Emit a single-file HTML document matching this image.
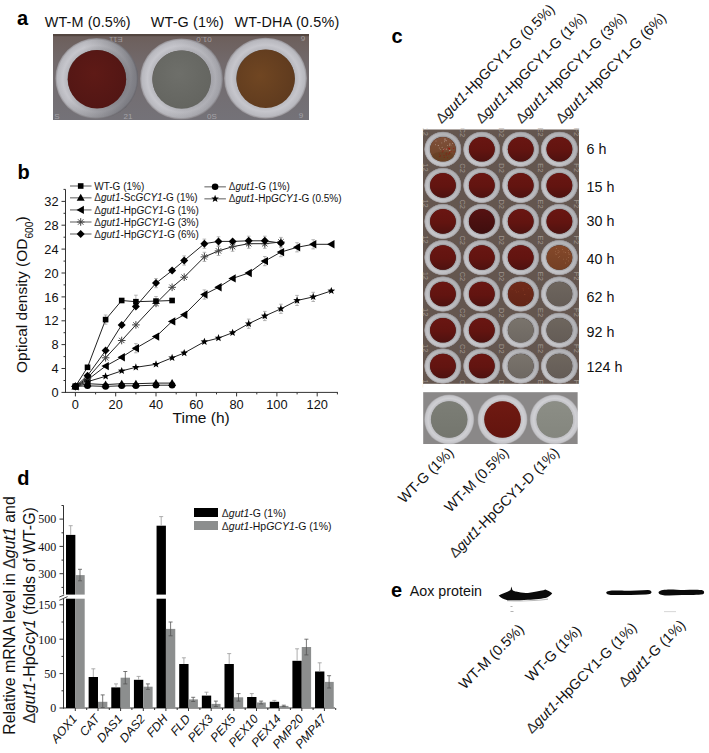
<!DOCTYPE html><html><head><meta charset="utf-8"><style>
html,body{margin:0;padding:0;background:#fff;overflow:hidden;}svg{display:block}
text{font-family:"Liberation Sans",sans-serif;fill:#111;}
.b{font-weight:bold;font-size:20px;fill:#000}
.i{font-style:italic}
</style></head><body>
<svg width="709" height="753" viewBox="0 0 709 753">
<defs>
<radialGradient id="ringA" cx="50%" cy="50%" r="50%">
 <stop offset="0.69" stop-color="#5a5450"/>
 <stop offset="0.715" stop-color="#b8b8be"/>
 <stop offset="0.82" stop-color="#c6c6cc"/>
 <stop offset="0.95" stop-color="#b8b8be"/>
 <stop offset="1" stop-color="#8e8a8e"/>
</radialGradient>
<radialGradient id="ringC" cx="50%" cy="50%" r="50%">
 <stop offset="0.67" stop-color="#4a3a38"/>
 <stop offset="0.71" stop-color="#acacb0"/>
 <stop offset="0.80" stop-color="#cacace"/>
 <stop offset="0.92" stop-color="#c0c0c4"/>
 <stop offset="0.985" stop-color="#9a9496"/>
 <stop offset="1" stop-color="#6e625e"/>
</radialGradient>
<radialGradient id="ringC2" cx="50%" cy="50%" r="50%">
 <stop offset="0.70" stop-color="#707070"/>
 <stop offset="0.735" stop-color="#bebec2"/>
 <stop offset="0.84" stop-color="#d0d0d4"/>
 <stop offset="0.95" stop-color="#c4c4c8"/>
 <stop offset="1" stop-color="#a09ea0"/>
</radialGradient>
<radialGradient id="redA" cx="45%" cy="40%" r="60%">
 <stop offset="0" stop-color="#5e1a16"/>
 <stop offset="1" stop-color="#521614"/>
</radialGradient>
<radialGradient id="grayA" cx="45%" cy="40%" r="60%">
 <stop offset="0" stop-color="#6e6f6a"/>
 <stop offset="1" stop-color="#646560"/>
</radialGradient>
<radialGradient id="brownA" cx="40%" cy="45%" r="65%">
 <stop offset="0" stop-color="#704622"/>
 <stop offset="1" stop-color="#5e3a1e"/>
</radialGradient>
<linearGradient id="red" x1="0" y1="0" x2="0" y2="1">
 <stop offset="0" stop-color="#6a1612"/>
 <stop offset="0.55" stop-color="#621410"/>
 <stop offset="1" stop-color="#4e1210"/>
</linearGradient>
<linearGradient id="redD" x1="0" y1="0" x2="0" y2="1">
 <stop offset="0" stop-color="#561212"/>
 <stop offset="1" stop-color="#3e0e0e"/>
</linearGradient>
<linearGradient id="brown" x1="0" y1="0" x2="0" y2="1">
 <stop offset="0" stop-color="#80503a"/>
 <stop offset="1" stop-color="#6e4428"/>
</linearGradient>
<linearGradient id="orange" x1="0" y1="0" x2="0" y2="1">
 <stop offset="0" stop-color="#84482a"/>
 <stop offset="1" stop-color="#744024"/>
</linearGradient>
<linearGradient id="rbrown" x1="0" y1="0" x2="0" y2="1">
 <stop offset="0" stop-color="#702a1a"/>
 <stop offset="1" stop-color="#622416"/>
</linearGradient>
<linearGradient id="gray1" x1="0" y1="0" x2="0" y2="1">
 <stop offset="0" stop-color="#7a746c"/>
 <stop offset="1" stop-color="#6e6862"/>
</linearGradient>
<linearGradient id="gray2" x1="0" y1="0" x2="0" y2="1">
 <stop offset="0" stop-color="#6e665e"/>
 <stop offset="1" stop-color="#645c56"/>
</linearGradient>
<linearGradient id="grayC1" x1="0" y1="0" x2="0" y2="1">
 <stop offset="0" stop-color="#7c7e76"/>
 <stop offset="1" stop-color="#74766e"/>
</linearGradient>
<linearGradient id="grayC3" x1="0" y1="0" x2="0" y2="1">
 <stop offset="0" stop-color="#8c8e86"/>
 <stop offset="1" stop-color="#84867e"/>
</linearGradient>
<linearGradient id="redC2" x1="0" y1="0" x2="0" y2="1">
 <stop offset="0" stop-color="#701a12"/>
 <stop offset="1" stop-color="#62140e"/>
</linearGradient>
<linearGradient id="shadeR" x1="0" y1="0" x2="1" y2="0.3">
 <stop offset="0.35" stop-color="#000" stop-opacity="0"/>
 <stop offset="1" stop-color="#1a1a22" stop-opacity="0.38"/>
</linearGradient>
<linearGradient id="shadeL" x1="0" y1="0" x2="1" y2="0.2">
 <stop offset="0.4" stop-color="#000" stop-opacity="0"/>
 <stop offset="1" stop-color="#1a1a22" stop-opacity="0.15"/>
</linearGradient>
<linearGradient id="shadeC" x1="1" y1="0" x2="0" y2="1">
 <stop offset="0.3" stop-color="#000" stop-opacity="0.10"/>
 <stop offset="1" stop-color="#fff" stop-opacity="0.10"/>
</linearGradient>
<linearGradient id="plateA" x1="0" y1="0" x2="0" y2="1">
 <stop offset="0" stop-color="#6c5e5a"/>
 <stop offset="0.35" stop-color="#726a6c"/>
 <stop offset="1" stop-color="#747278"/>
</linearGradient>
</defs>
<text class="b" x="17" y="25">a</text>
<text class="b" x="17.5" y="179.3">b</text>
<text class="b" x="391.5" y="43.2">c</text>
<text class="b" x="17.3" y="484.6">d</text>
<text class="b" x="391" y="596.8">e</text>
<text x="44.8" y="27.1" font-size="14.4" textLength="85.8" lengthAdjust="spacing">WT-M (0.5%)</text>
<text x="150.8" y="27.1" font-size="14.4" textLength="73" lengthAdjust="spacing">WT-G (1%)</text>
<text x="234.6" y="27.1" font-size="14.4" textLength="104.6" lengthAdjust="spacing">WT-DHA (0.5%)</text>
<rect x="53" y="34" width="256" height="86" fill="url(#plateA)"/>
<rect x="53" y="34" width="256" height="2.2" fill="#4e403a" opacity="0.8"/>
<text transform="translate(116,36.5) rotate(180)" font-size="8" style="fill:#c4c4c8" opacity="0.6" text-anchor="middle">E11</text>
<text transform="translate(204,36.5) rotate(180)" font-size="8" style="fill:#c4c4c8" opacity="0.6" text-anchor="middle">01.0</text>
<text transform="translate(303,36) rotate(180)" font-size="8" style="fill:#c4c4c8" opacity="0.6" text-anchor="middle">6</text>
<text transform="translate(57,119) rotate(0)" font-size="8" style="fill:#c4c4c8" opacity="0.6" text-anchor="middle">S</text>
<text transform="translate(128,119) rotate(0)" font-size="8" style="fill:#c4c4c8" opacity="0.6" text-anchor="middle">21</text>
<text transform="translate(212,119) rotate(0)" font-size="8" style="fill:#c4c4c8" opacity="0.6" text-anchor="middle">0S</text>
<text transform="translate(301,118) rotate(0)" font-size="8" style="fill:#c4c4c8" opacity="0.6" text-anchor="middle">9</text>
<ellipse cx="96.8" cy="78.6" rx="41.5" ry="40.5" fill="url(#ringA)"/>
<ellipse cx="96.8" cy="78.6" rx="41.5" ry="40.5" fill="url(#shadeR)"/>
<circle cx="97.0" cy="79.19999999999999" r="29.2" fill="url(#redA)"/>
<ellipse cx="181.5" cy="79" rx="41.5" ry="40.5" fill="url(#ringA)"/>
<ellipse cx="181.5" cy="79" rx="41.5" ry="40.5" fill="url(#shadeL)"/>
<circle cx="181.7" cy="79.6" r="29.2" fill="url(#grayA)"/>
<ellipse cx="265.5" cy="78.2" rx="41.5" ry="40.5" fill="url(#ringA)"/>
<circle cx="265.7" cy="78.8" r="29.2" fill="url(#brownA)"/>
<g stroke="#333" stroke-width="1" fill="none">
<line x1="65.5" y1="189.4" x2="65.5" y2="392.9"/>
<line x1="65" y1="392.4" x2="337.9" y2="392.4"/>
<line x1="61.5" y1="392.4" x2="65.5" y2="392.4"/>
<line x1="63.5" y1="380.5" x2="65.5" y2="380.5"/>
<line x1="61.5" y1="368.5" x2="65.5" y2="368.5"/>
<line x1="63.5" y1="356.6" x2="65.5" y2="356.6"/>
<line x1="61.5" y1="344.6" x2="65.5" y2="344.6"/>
<line x1="63.5" y1="332.7" x2="65.5" y2="332.7"/>
<line x1="61.5" y1="320.8" x2="65.5" y2="320.8"/>
<line x1="63.5" y1="308.8" x2="65.5" y2="308.8"/>
<line x1="61.5" y1="296.9" x2="65.5" y2="296.9"/>
<line x1="63.5" y1="284.9" x2="65.5" y2="284.9"/>
<line x1="61.5" y1="273.0" x2="65.5" y2="273.0"/>
<line x1="63.5" y1="261.1" x2="65.5" y2="261.1"/>
<line x1="61.5" y1="249.1" x2="65.5" y2="249.1"/>
<line x1="63.5" y1="237.2" x2="65.5" y2="237.2"/>
<line x1="61.5" y1="225.2" x2="65.5" y2="225.2"/>
<line x1="63.5" y1="213.3" x2="65.5" y2="213.3"/>
<line x1="61.5" y1="201.4" x2="65.5" y2="201.4"/>
<line x1="63.5" y1="189.4" x2="65.5" y2="189.4"/>
<line x1="75.4" y1="392.4" x2="75.4" y2="396.4"/>
<line x1="95.6" y1="392.4" x2="95.6" y2="394.4"/>
<line x1="115.7" y1="392.4" x2="115.7" y2="396.4"/>
<line x1="135.9" y1="392.4" x2="135.9" y2="394.4"/>
<line x1="156.0" y1="392.4" x2="156.0" y2="396.4"/>
<line x1="176.2" y1="392.4" x2="176.2" y2="394.4"/>
<line x1="196.3" y1="392.4" x2="196.3" y2="396.4"/>
<line x1="216.5" y1="392.4" x2="216.5" y2="394.4"/>
<line x1="236.6" y1="392.4" x2="236.6" y2="396.4"/>
<line x1="256.8" y1="392.4" x2="256.8" y2="394.4"/>
<line x1="276.9" y1="392.4" x2="276.9" y2="396.4"/>
<line x1="297.1" y1="392.4" x2="297.1" y2="394.4"/>
<line x1="317.2" y1="392.4" x2="317.2" y2="396.4"/>
<line x1="337.4" y1="392.4" x2="337.4" y2="394.4"/>
</g>
<text x="58.6" y="397.0" font-size="12.8" text-anchor="end">0</text>
<text x="58.6" y="373.1" font-size="12.8" text-anchor="end">4</text>
<text x="58.6" y="349.2" font-size="12.8" text-anchor="end">8</text>
<text x="58.6" y="325.4" font-size="12.8" text-anchor="end">12</text>
<text x="58.6" y="301.5" font-size="12.8" text-anchor="end">16</text>
<text x="58.6" y="277.6" font-size="12.8" text-anchor="end">20</text>
<text x="58.6" y="253.7" font-size="12.8" text-anchor="end">24</text>
<text x="58.6" y="229.8" font-size="12.8" text-anchor="end">28</text>
<text x="58.6" y="206.0" font-size="12.8" text-anchor="end">32</text>
<text x="75.4" y="408.6" font-size="12.8" text-anchor="middle">0</text>
<text x="115.7" y="408.6" font-size="12.8" text-anchor="middle">20</text>
<text x="156.0" y="408.6" font-size="12.8" text-anchor="middle">40</text>
<text x="196.3" y="408.6" font-size="12.8" text-anchor="middle">60</text>
<text x="236.6" y="408.6" font-size="12.8" text-anchor="middle">80</text>
<text x="276.9" y="408.6" font-size="12.8" text-anchor="middle">100</text>
<text x="317.2" y="408.6" font-size="12.8" text-anchor="middle">120</text>
<text x="172.6" y="423.4" font-size="15.5">Time (h)</text>
<text transform="translate(27.3,373) rotate(-90)" font-size="15.5">Optical density (OD<tspan font-size="10.2" dy="6">600</tspan><tspan dy="-6">)</tspan></text>
<polyline points="75.4,386.4 87.5,381.7 105.6,376.3 121.7,370.9 135.9,367.3 156.0,364.3 172.1,357.8 184.2,353.0 204.4,341.7 218.5,338.1 232.6,332.7 248.7,323.7 264.8,316.0 280.9,308.8 297.1,300.5 313.2,296.9 331.3,290.9" fill="none" stroke="#222" stroke-width="1"/>
<polyline points="75.4,386.4 87.5,379.9 105.6,366.1 121.7,357.2 135.9,348.2 156.0,336.6 172.1,321.4 184.2,314.8 204.4,294.5 218.5,287.3 232.6,278.4 248.7,273.0 264.8,261.1 280.9,252.1 297.1,247.3 313.2,244.3 331.3,244.3" fill="none" stroke="#222" stroke-width="1"/>
<polyline points="75.4,386.4 87.5,378.1 105.6,357.8 121.7,340.5 135.9,324.9 156.0,303.4 172.1,287.3 184.2,277.2 204.4,256.9 218.5,250.9 232.6,246.7 248.7,243.7 264.8,243.7 280.9,242.0" fill="none" stroke="#222" stroke-width="1"/>
<polyline points="75.4,386.4 87.5,375.7 105.6,350.6 121.7,324.9 135.9,306.4 156.0,283.1 172.1,270.6 184.2,260.5 204.4,243.7 218.5,241.4 232.6,241.4 248.7,240.8 264.8,240.8 280.9,243.1" fill="none" stroke="#222" stroke-width="1"/>
<polyline points="75.4,386.4 87.5,367.3 105.6,319.6 121.7,300.5 135.9,301.7 156.0,301.1 172.1,300.5" fill="none" stroke="#222" stroke-width="1"/>
<polyline points="75.4,386.4 87.5,383.7 105.6,384.6 121.7,383.7 135.9,383.7 156.0,383.1 172.1,383.1" fill="none" stroke="#222" stroke-width="1"/>
<polyline points="75.4,386.4 87.5,385.8 105.6,386.4 121.7,385.8 135.9,385.8 156.0,385.2 172.1,385.2" fill="none" stroke="#222" stroke-width="1"/>
<path d="M105.6,315.0V324.2M103.8,315.0h3.6M103.8,324.2h3.6" stroke="#999" stroke-width="0.7" fill="none"/>
<path d="M135.9,295.2V308.1M134.1,295.2h3.6M134.1,308.1h3.6" stroke="#999" stroke-width="0.7" fill="none"/>
<path d="M156.0,296.5V305.7M154.2,296.5h3.6M154.2,305.7h3.6" stroke="#999" stroke-width="0.7" fill="none"/>
<path d="M156.0,278.5V287.7M154.2,278.5h3.6M154.2,287.7h3.6" stroke="#999" stroke-width="0.7" fill="none"/>
<path d="M184.2,255.9V265.1M182.4,255.9h3.6M182.4,265.1h3.6" stroke="#999" stroke-width="0.7" fill="none"/>
<path d="M204.4,239.1V248.3M202.6,239.1h3.6M202.6,248.3h3.6" stroke="#999" stroke-width="0.7" fill="none"/>
<path d="M218.5,236.8V246.0M216.7,236.8h3.6M216.7,246.0h3.6" stroke="#999" stroke-width="0.7" fill="none"/>
<path d="M248.7,236.2V245.4M246.9,236.2h3.6M246.9,245.4h3.6" stroke="#999" stroke-width="0.7" fill="none"/>
<path d="M264.8,236.2V245.4M263.0,236.2h3.6M263.0,245.4h3.6" stroke="#999" stroke-width="0.7" fill="none"/>
<path d="M204.4,252.3V261.5M202.6,252.3h3.6M202.6,261.5h3.6" stroke="#999" stroke-width="0.7" fill="none"/>
<path d="M218.5,246.3V255.5M216.7,246.3h3.6M216.7,255.5h3.6" stroke="#999" stroke-width="0.7" fill="none"/>
<path d="M232.6,242.1V251.3M230.8,242.1h3.6M230.8,251.3h3.6" stroke="#999" stroke-width="0.7" fill="none"/>
<path d="M248.7,239.1V248.3M246.9,239.1h3.6M246.9,248.3h3.6" stroke="#999" stroke-width="0.7" fill="none"/>
<path d="M264.8,239.1V248.3M263.0,239.1h3.6M263.0,248.3h3.6" stroke="#999" stroke-width="0.7" fill="none"/>
<path d="M280.9,237.4V246.6M279.1,237.4h3.6M279.1,246.6h3.6" stroke="#999" stroke-width="0.7" fill="none"/>
<path d="M135.9,343.6V352.8M134.1,343.6h3.6M134.1,352.8h3.6" stroke="#999" stroke-width="0.7" fill="none"/>
<path d="M204.4,289.9V299.1M202.6,289.9h3.6M202.6,299.1h3.6" stroke="#999" stroke-width="0.7" fill="none"/>
<path d="M264.8,256.5V265.7M263.0,256.5h3.6M263.0,265.7h3.6" stroke="#999" stroke-width="0.7" fill="none"/>
<path d="M280.9,247.5V256.7M279.1,247.5h3.6M279.1,256.7h3.6" stroke="#999" stroke-width="0.7" fill="none"/>
<path d="M297.1,242.7V251.9M295.2,242.7h3.6M295.2,251.9h3.6" stroke="#999" stroke-width="0.7" fill="none"/>
<path d="M313.2,239.7V248.9M311.4,239.7h3.6M311.4,248.9h3.6" stroke="#999" stroke-width="0.7" fill="none"/>
<path d="M248.7,319.1V328.3M246.9,319.1h3.6M246.9,328.3h3.6" stroke="#999" stroke-width="0.7" fill="none"/>
<path d="M264.8,311.4V320.6M263.0,311.4h3.6M263.0,320.6h3.6" stroke="#999" stroke-width="0.7" fill="none"/>
<path d="M280.9,304.2V313.4M279.1,304.2h3.6M279.1,313.4h3.6" stroke="#999" stroke-width="0.7" fill="none"/>
<path d="M297.1,295.4V305.5M295.2,295.4h3.6M295.2,305.5h3.6" stroke="#999" stroke-width="0.7" fill="none"/>
<path d="M313.2,292.3V301.5M311.4,292.3h3.6M311.4,301.5h3.6" stroke="#999" stroke-width="0.7" fill="none"/>
<polygon points="75.4,382.4 76.4,385.1 79.2,385.2 77.0,387.0 77.8,389.7 75.4,388.1 73.0,389.7 73.8,387.0 71.6,385.2 74.4,385.1" fill="#000"/>
<polygon points="87.5,377.7 88.5,380.3 91.3,380.4 89.1,382.2 89.8,384.9 87.5,383.4 85.1,384.9 85.9,382.2 83.7,380.4 86.5,380.3" fill="#000"/>
<polygon points="105.6,372.3 106.6,374.9 109.4,375.0 107.2,376.8 108.0,379.5 105.6,378.0 103.3,379.5 104.0,376.8 101.8,375.0 104.6,374.9" fill="#000"/>
<polygon points="121.7,366.9 122.7,369.5 125.5,369.7 123.4,371.4 124.1,374.1 121.7,372.6 119.4,374.1 120.1,371.4 117.9,369.7 120.7,369.5" fill="#000"/>
<polygon points="135.9,363.3 136.8,366.0 139.7,366.1 137.5,367.9 138.2,370.6 135.9,369.0 133.5,370.6 134.2,367.9 132.0,366.1 134.9,366.0" fill="#000"/>
<polygon points="156.0,360.3 157.0,363.0 159.8,363.1 157.6,364.9 158.4,367.6 156.0,366.0 153.6,367.6 154.4,364.9 152.2,363.1 155.0,363.0" fill="#000"/>
<polygon points="172.1,353.8 173.1,356.4 175.9,356.5 173.7,358.3 174.5,361.0 172.1,359.5 169.8,361.0 170.5,358.3 168.3,356.5 171.1,356.4" fill="#000"/>
<polygon points="184.2,349.0 185.2,351.6 188.0,351.8 185.8,353.5 186.6,356.2 184.2,354.7 181.9,356.2 182.6,353.5 180.4,351.8 183.2,351.6" fill="#000"/>
<polygon points="204.4,337.7 205.4,340.3 208.2,340.4 206.0,342.2 206.7,344.9 204.4,343.4 202.0,344.9 202.7,342.2 200.6,340.4 203.4,340.3" fill="#000"/>
<polygon points="218.5,334.1 219.5,336.7 222.3,336.8 220.1,338.6 220.8,341.3 218.5,339.8 216.1,341.3 216.8,338.6 214.7,336.8 217.5,336.7" fill="#000"/>
<polygon points="232.6,328.7 233.6,331.3 236.4,331.5 234.2,333.2 234.9,335.9 232.6,334.4 230.2,335.9 231.0,333.2 228.8,331.5 231.6,331.3" fill="#000"/>
<polygon points="248.7,319.7 249.7,322.4 252.5,322.5 250.3,324.3 251.0,327.0 248.7,325.4 246.3,327.0 247.1,324.3 244.9,322.5 247.7,322.4" fill="#000"/>
<polygon points="264.8,312.0 265.8,314.6 268.6,314.7 266.4,316.5 267.2,319.2 264.8,317.7 262.5,319.2 263.2,316.5 261.0,314.7 263.8,314.6" fill="#000"/>
<polygon points="280.9,304.8 281.9,307.4 284.7,307.6 282.5,309.3 283.3,312.1 280.9,310.5 278.6,312.1 279.3,309.3 277.1,307.6 279.9,307.4" fill="#000"/>
<polygon points="297.1,296.5 298.0,299.1 300.9,299.2 298.7,301.0 299.4,303.7 297.1,302.2 294.7,303.7 295.4,301.0 293.2,299.2 296.1,299.1" fill="#000"/>
<polygon points="313.2,292.9 314.2,295.5 317.0,295.6 314.8,297.4 315.5,300.1 313.2,298.6 310.8,300.1 311.6,297.4 309.4,295.6 312.2,295.5" fill="#000"/>
<polygon points="331.3,286.9 332.3,289.5 335.1,289.7 332.9,291.4 333.7,294.1 331.3,292.6 329.0,294.1 329.7,291.4 327.5,289.7 330.3,289.5" fill="#000"/>
<path d="M71.2,386.4 L78.6,382.2 L78.6,390.6Z" fill="#000"/>
<path d="M83.3,379.9 L90.6,375.7 L90.6,384.1Z" fill="#000"/>
<path d="M101.4,366.1 L108.8,361.9 L108.8,370.3Z" fill="#000"/>
<path d="M117.5,357.2 L124.9,353.0 L124.9,361.4Z" fill="#000"/>
<path d="M131.7,348.2 L139.0,344.0 L139.0,352.4Z" fill="#000"/>
<path d="M151.8,336.6 L159.2,332.4 L159.2,340.8Z" fill="#000"/>
<path d="M167.9,321.4 L175.3,317.2 L175.3,325.6Z" fill="#000"/>
<path d="M180.0,314.8 L187.4,310.6 L187.4,319.0Z" fill="#000"/>
<path d="M200.2,294.5 L207.5,290.3 L207.5,298.7Z" fill="#000"/>
<path d="M214.3,287.3 L221.6,283.1 L221.6,291.5Z" fill="#000"/>
<path d="M228.4,278.4 L235.7,274.2 L235.7,282.6Z" fill="#000"/>
<path d="M244.5,273.0 L251.8,268.8 L251.8,277.2Z" fill="#000"/>
<path d="M260.6,261.1 L268.0,256.9 L268.0,265.3Z" fill="#000"/>
<path d="M276.7,252.1 L284.1,247.9 L284.1,256.3Z" fill="#000"/>
<path d="M292.9,247.3 L300.2,243.1 L300.2,251.5Z" fill="#000"/>
<path d="M309.0,244.3 L316.3,240.1 L316.3,248.5Z" fill="#000"/>
<path d="M327.1,244.3 L334.5,240.1 L334.5,248.5Z" fill="#000"/>
<path d="M71.6,386.4L79.2,386.4M72.7,383.7L78.1,389.1M75.4,382.6L75.4,390.2M78.1,383.7L72.7,389.1" stroke="#444" stroke-width="1.0" fill="none"/>
<path d="M83.7,378.1L91.3,378.1M84.8,375.4L90.2,380.8M87.5,374.3L87.5,381.9M90.2,375.4L84.8,380.8" stroke="#444" stroke-width="1.0" fill="none"/>
<path d="M101.8,357.8L109.4,357.8M102.9,355.1L108.3,360.5M105.6,354.0L105.6,361.6M108.3,355.1L102.9,360.5" stroke="#444" stroke-width="1.0" fill="none"/>
<path d="M117.9,340.5L125.5,340.5M119.1,337.8L124.4,343.1M121.7,336.7L121.7,344.3M124.4,337.8L119.1,343.1" stroke="#444" stroke-width="1.0" fill="none"/>
<path d="M132.1,324.9L139.7,324.9M133.2,322.3L138.5,327.6M135.9,321.1L135.9,328.7M138.5,322.3L133.2,327.6" stroke="#444" stroke-width="1.0" fill="none"/>
<path d="M152.2,303.4L159.8,303.4M153.3,300.8L158.7,306.1M156.0,299.6L156.0,307.2M158.7,300.8L153.3,306.1" stroke="#444" stroke-width="1.0" fill="none"/>
<path d="M168.3,287.3L175.9,287.3M169.4,284.6L174.8,290.0M172.1,283.5L172.1,291.1M174.8,284.6L169.4,290.0" stroke="#444" stroke-width="1.0" fill="none"/>
<path d="M180.4,277.2L188.0,277.2M181.5,274.5L186.9,279.9M184.2,273.4L184.2,281.0M186.9,274.5L181.5,279.9" stroke="#444" stroke-width="1.0" fill="none"/>
<path d="M200.6,256.9L208.2,256.9M201.7,254.2L207.0,259.6M204.4,253.1L204.4,260.7M207.0,254.2L201.7,259.6" stroke="#444" stroke-width="1.0" fill="none"/>
<path d="M214.7,250.9L222.3,250.9M215.8,248.2L221.2,253.6M218.5,247.1L218.5,254.7M221.2,248.2L215.8,253.6" stroke="#444" stroke-width="1.0" fill="none"/>
<path d="M228.8,246.7L236.4,246.7M229.9,244.0L235.3,249.4M232.6,242.9L232.6,250.5M235.3,244.0L229.9,249.4" stroke="#444" stroke-width="1.0" fill="none"/>
<path d="M244.9,243.7L252.5,243.7M246.0,241.1L251.4,246.4M248.7,239.9L248.7,247.5M251.4,241.1L246.0,246.4" stroke="#444" stroke-width="1.0" fill="none"/>
<path d="M261.0,243.7L268.6,243.7M262.1,241.1L267.5,246.4M264.8,239.9L264.8,247.5M267.5,241.1L262.1,246.4" stroke="#444" stroke-width="1.0" fill="none"/>
<path d="M277.1,242.0L284.7,242.0M278.2,239.3L283.6,244.6M280.9,238.2L280.9,245.8M283.6,239.3L278.2,244.6" stroke="#444" stroke-width="1.0" fill="none"/>
<path d="M75.4,382.4 L79.4,386.4 L75.4,390.4 L71.4,386.4Z" fill="#000"/>
<path d="M87.5,371.7 L91.5,375.7 L87.5,379.7 L83.5,375.7Z" fill="#000"/>
<path d="M105.6,346.6 L109.6,350.6 L105.6,354.6 L101.6,350.6Z" fill="#000"/>
<path d="M121.7,320.9 L125.7,324.9 L121.7,328.9 L117.7,324.9Z" fill="#000"/>
<path d="M135.9,302.4 L139.9,306.4 L135.9,310.4 L131.9,306.4Z" fill="#000"/>
<path d="M156.0,279.1 L160.0,283.1 L156.0,287.1 L152.0,283.1Z" fill="#000"/>
<path d="M172.1,266.6 L176.1,270.6 L172.1,274.6 L168.1,270.6Z" fill="#000"/>
<path d="M184.2,256.5 L188.2,260.5 L184.2,264.5 L180.2,260.5Z" fill="#000"/>
<path d="M204.4,239.7 L208.4,243.7 L204.4,247.7 L200.4,243.7Z" fill="#000"/>
<path d="M218.5,237.4 L222.5,241.4 L218.5,245.4 L214.5,241.4Z" fill="#000"/>
<path d="M232.6,237.4 L236.6,241.4 L232.6,245.4 L228.6,241.4Z" fill="#000"/>
<path d="M248.7,236.8 L252.7,240.8 L248.7,244.8 L244.7,240.8Z" fill="#000"/>
<path d="M264.8,236.8 L268.8,240.8 L264.8,244.8 L260.8,240.8Z" fill="#000"/>
<path d="M280.9,239.1 L284.9,243.1 L280.9,247.1 L276.9,243.1Z" fill="#000"/>
<rect x="72.6" y="383.6" width="5.6" height="5.6" fill="#000"/>
<rect x="84.7" y="364.5" width="5.6" height="5.6" fill="#000"/>
<rect x="102.8" y="316.8" width="5.6" height="5.6" fill="#000"/>
<rect x="118.9" y="297.7" width="5.6" height="5.6" fill="#000"/>
<rect x="133.1" y="298.9" width="5.6" height="5.6" fill="#000"/>
<rect x="153.2" y="298.3" width="5.6" height="5.6" fill="#000"/>
<rect x="169.3" y="297.7" width="5.6" height="5.6" fill="#000"/>
<circle cx="75.4" cy="386.4" r="3.3" fill="#000"/>
<circle cx="87.5" cy="385.8" r="3.3" fill="#000"/>
<circle cx="105.6" cy="386.4" r="3.3" fill="#000"/>
<circle cx="121.7" cy="385.8" r="3.3" fill="#000"/>
<circle cx="135.9" cy="385.8" r="3.3" fill="#000"/>
<circle cx="156.0" cy="385.2" r="3.3" fill="#000"/>
<circle cx="172.1" cy="385.2" r="3.3" fill="#000"/>
<path d="M75.4,382.4 L79.4,389.4 L71.4,389.4Z" fill="#000"/>
<path d="M87.5,379.7 L91.5,386.7 L83.5,386.7Z" fill="#000"/>
<path d="M105.6,380.6 L109.6,387.6 L101.6,387.6Z" fill="#000"/>
<path d="M121.7,379.7 L125.7,386.7 L117.7,386.7Z" fill="#000"/>
<path d="M135.9,379.7 L139.9,386.7 L131.9,386.7Z" fill="#000"/>
<path d="M156.0,379.1 L160.0,386.1 L152.0,386.1Z" fill="#000"/>
<path d="M172.1,379.1 L176.1,386.1 L168.1,386.1Z" fill="#000"/>
<line x1="70" y1="186" x2="91.5" y2="186" stroke="#8a8a8a" stroke-width="1.4"/>
<rect x="77.9" y="183.2" width="5.6" height="5.6" fill="#000"/>
<text x="94.3" y="189.6" font-size="10">WT-G (1%)</text>
<line x1="70" y1="197.8" x2="91.5" y2="197.8" stroke="#8a8a8a" stroke-width="1.4"/>
<path d="M80.7,193.8 L84.7,200.8 L76.7,200.8Z" fill="#000"/>
<text x="94.3" y="201.4" font-size="10"><tspan style="fill:#333">Δ</tspan><tspan font-style="italic">gut1</tspan>-Sc<tspan font-style="italic">GCY1</tspan>-G (1%)</text>
<line x1="70" y1="209.9" x2="91.5" y2="209.9" stroke="#8a8a8a" stroke-width="1.4"/>
<path d="M76.5,209.9 L83.9,205.7 L83.9,214.1Z" fill="#000"/>
<text x="94.3" y="213.5" font-size="10"><tspan style="fill:#333">Δ</tspan><tspan font-style="italic">gut1</tspan>-Hp<tspan font-style="italic">GCY1</tspan>-G (1%)</text>
<line x1="70" y1="222" x2="91.5" y2="222" stroke="#8a8a8a" stroke-width="1.4"/>
<path d="M76.9,222.0L84.5,222.0M78.0,219.3L83.4,224.7M80.7,218.2L80.7,225.8M83.4,219.3L78.0,224.7" stroke="#444" stroke-width="1.0" fill="none"/>
<text x="94.3" y="225.6" font-size="10"><tspan style="fill:#333">Δ</tspan><tspan font-style="italic">gut1</tspan>-Hp<tspan font-style="italic">GCY1</tspan>-G (3%)</text>
<line x1="70" y1="234" x2="91.5" y2="234" stroke="#8a8a8a" stroke-width="1.4"/>
<path d="M80.7,230.0 L84.7,234.0 L80.7,238.0 L76.7,234.0Z" fill="#000"/>
<text x="94.3" y="237.6" font-size="10"><tspan style="fill:#333">Δ</tspan><tspan font-style="italic">gut1</tspan>-Hp<tspan font-style="italic">GCY1</tspan>-G (6%)</text>
<line x1="204.4" y1="186.8" x2="225.9" y2="186.8" stroke="#8a8a8a" stroke-width="1.4"/>
<circle cx="215.1" cy="186.8" r="3.3" fill="#000"/>
<text x="228.70000000000002" y="190.4" font-size="10"><tspan style="fill:#333">Δ</tspan><tspan font-style="italic">gut1</tspan>-G (1%)</text>
<line x1="204.4" y1="198.8" x2="225.9" y2="198.8" stroke="#8a8a8a" stroke-width="1.4"/>
<polygon points="215.1,194.8 216.1,197.4 218.9,197.6 216.7,199.3 217.5,202.0 215.1,200.5 212.7,202.0 213.5,199.3 211.3,197.6 214.1,197.4" fill="#000"/>
<text x="228.70000000000002" y="202.4" font-size="10"><tspan style="fill:#333">Δ</tspan><tspan font-style="italic">gut1</tspan>-Hp<tspan font-style="italic">GCY1</tspan>-G (0.5%)</text>
<text transform="translate(441.5,124.3) rotate(-45)" font-size="14.3" text-anchor="start"><tspan style="fill:#333">Δ</tspan><tspan font-style="italic">gut1</tspan>-HpGCY1-G (0.5%)</text>
<text transform="translate(481.5,124.3) rotate(-45)" font-size="14.3" text-anchor="start"><tspan style="fill:#333">Δ</tspan><tspan font-style="italic">gut1</tspan>-HpGCY1-G (1%)</text>
<text transform="translate(521.5,124.3) rotate(-45)" font-size="14.3" text-anchor="start"><tspan style="fill:#333">Δ</tspan><tspan font-style="italic">gut1</tspan>-HpGCY1-G (3%)</text>
<text transform="translate(561.5,124.3) rotate(-45)" font-size="14.3" text-anchor="start"><tspan style="fill:#333">Δ</tspan><tspan font-style="italic">gut1</tspan>-HpGCY1-G (6%)</text>
<rect x="423" y="129.5" width="156" height="254.3" fill="#64564f"/>
<text transform="translate(422.7,127.5) rotate(90)" font-size="7.5" style="fill:#b8b0aa" opacity="0.7">12</text>
<text transform="translate(459.8,127.5) rotate(90)" font-size="7.5" style="fill:#b8b0aa" opacity="0.7">C2</text>
<text transform="translate(498.7,127.5) rotate(90)" font-size="7.5" style="fill:#b8b0aa" opacity="0.7">D2</text>
<text transform="translate(537.5,127.5) rotate(90)" font-size="7.5" style="fill:#b8b0aa" opacity="0.7">E2</text>
<text transform="translate(574.0,127.5) rotate(90)" font-size="7.5" style="fill:#b8b0aa" opacity="0.7">F2</text>
<text transform="translate(422.7,163.3) rotate(90)" font-size="7.5" style="fill:#b8b0aa" opacity="0.7">12</text>
<text transform="translate(459.8,163.3) rotate(90)" font-size="7.5" style="fill:#b8b0aa" opacity="0.7">C2</text>
<text transform="translate(498.7,163.3) rotate(90)" font-size="7.5" style="fill:#b8b0aa" opacity="0.7">D2</text>
<text transform="translate(537.5,163.3) rotate(90)" font-size="7.5" style="fill:#b8b0aa" opacity="0.7">E2</text>
<text transform="translate(574.0,163.3) rotate(90)" font-size="7.5" style="fill:#b8b0aa" opacity="0.7">F2</text>
<text transform="translate(422.7,199.4) rotate(90)" font-size="7.5" style="fill:#b8b0aa" opacity="0.7">12</text>
<text transform="translate(459.8,199.4) rotate(90)" font-size="7.5" style="fill:#b8b0aa" opacity="0.7">C2</text>
<text transform="translate(498.7,199.4) rotate(90)" font-size="7.5" style="fill:#b8b0aa" opacity="0.7">D2</text>
<text transform="translate(537.5,199.4) rotate(90)" font-size="7.5" style="fill:#b8b0aa" opacity="0.7">E2</text>
<text transform="translate(574.0,199.4) rotate(90)" font-size="7.5" style="fill:#b8b0aa" opacity="0.7">F2</text>
<text transform="translate(422.7,235.4) rotate(90)" font-size="7.5" style="fill:#b8b0aa" opacity="0.7">12</text>
<text transform="translate(459.8,235.4) rotate(90)" font-size="7.5" style="fill:#b8b0aa" opacity="0.7">C2</text>
<text transform="translate(498.7,235.4) rotate(90)" font-size="7.5" style="fill:#b8b0aa" opacity="0.7">D2</text>
<text transform="translate(537.5,235.4) rotate(90)" font-size="7.5" style="fill:#b8b0aa" opacity="0.7">E2</text>
<text transform="translate(574.0,235.4) rotate(90)" font-size="7.5" style="fill:#b8b0aa" opacity="0.7">F2</text>
<text transform="translate(422.7,271.7) rotate(90)" font-size="7.5" style="fill:#b8b0aa" opacity="0.7">12</text>
<text transform="translate(459.8,271.7) rotate(90)" font-size="7.5" style="fill:#b8b0aa" opacity="0.7">C2</text>
<text transform="translate(498.7,271.7) rotate(90)" font-size="7.5" style="fill:#b8b0aa" opacity="0.7">D2</text>
<text transform="translate(537.5,271.7) rotate(90)" font-size="7.5" style="fill:#b8b0aa" opacity="0.7">E2</text>
<text transform="translate(574.0,271.7) rotate(90)" font-size="7.5" style="fill:#b8b0aa" opacity="0.7">F2</text>
<text transform="translate(422.7,308.1) rotate(90)" font-size="7.5" style="fill:#b8b0aa" opacity="0.7">12</text>
<text transform="translate(459.8,308.1) rotate(90)" font-size="7.5" style="fill:#b8b0aa" opacity="0.7">C2</text>
<text transform="translate(498.7,308.1) rotate(90)" font-size="7.5" style="fill:#b8b0aa" opacity="0.7">D2</text>
<text transform="translate(537.5,308.1) rotate(90)" font-size="7.5" style="fill:#b8b0aa" opacity="0.7">E2</text>
<text transform="translate(574.0,308.1) rotate(90)" font-size="7.5" style="fill:#b8b0aa" opacity="0.7">F2</text>
<text transform="translate(422.7,344.1) rotate(90)" font-size="7.5" style="fill:#b8b0aa" opacity="0.7">12</text>
<text transform="translate(459.8,344.1) rotate(90)" font-size="7.5" style="fill:#b8b0aa" opacity="0.7">C2</text>
<text transform="translate(498.7,344.1) rotate(90)" font-size="7.5" style="fill:#b8b0aa" opacity="0.7">D2</text>
<text transform="translate(537.5,344.1) rotate(90)" font-size="7.5" style="fill:#b8b0aa" opacity="0.7">E2</text>
<text transform="translate(574.0,344.1) rotate(90)" font-size="7.5" style="fill:#b8b0aa" opacity="0.7">F2</text>
<text transform="translate(422.7,379.5) rotate(90)" font-size="7.5" style="fill:#b8b0aa" opacity="0.7">12</text>
<text transform="translate(459.8,379.5) rotate(90)" font-size="7.5" style="fill:#b8b0aa" opacity="0.7">C2</text>
<text transform="translate(498.7,379.5) rotate(90)" font-size="7.5" style="fill:#b8b0aa" opacity="0.7">D2</text>
<text transform="translate(537.5,379.5) rotate(90)" font-size="7.5" style="fill:#b8b0aa" opacity="0.7">E2</text>
<text transform="translate(574.0,379.5) rotate(90)" font-size="7.5" style="fill:#b8b0aa" opacity="0.7">F2</text>
<ellipse cx="442.9" cy="149.2" rx="18.7" ry="17.8" fill="url(#ringC)"/>
<ellipse cx="442.9" cy="149.2" rx="18.7" ry="17.8" fill="url(#shadeC)"/>
<ellipse cx="442.9" cy="149.2" rx="12.9" ry="12.3" fill="url(#brown)"/>
<ellipse cx="481.8" cy="149.2" rx="18.7" ry="17.8" fill="url(#ringC)"/>
<ellipse cx="481.8" cy="149.2" rx="18.7" ry="17.8" fill="url(#shadeC)"/>
<ellipse cx="481.8" cy="149.2" rx="12.9" ry="12.3" fill="url(#red)"/>
<ellipse cx="520.7" cy="149.2" rx="18.7" ry="17.8" fill="url(#ringC)"/>
<ellipse cx="520.7" cy="149.2" rx="18.7" ry="17.8" fill="url(#shadeC)"/>
<ellipse cx="520.7" cy="149.2" rx="12.9" ry="12.3" fill="url(#red)"/>
<ellipse cx="559.4" cy="149.2" rx="18.7" ry="17.8" fill="url(#ringC)"/>
<ellipse cx="559.4" cy="149.2" rx="18.7" ry="17.8" fill="url(#shadeC)"/>
<ellipse cx="559.4" cy="149.2" rx="12.9" ry="12.3" fill="url(#red)"/>
<ellipse cx="442.9" cy="185.4" rx="18.7" ry="17.8" fill="url(#ringC)"/>
<ellipse cx="442.9" cy="185.4" rx="18.7" ry="17.8" fill="url(#shadeC)"/>
<ellipse cx="442.9" cy="185.4" rx="12.9" ry="12.3" fill="url(#red)"/>
<ellipse cx="481.8" cy="185.4" rx="18.7" ry="17.8" fill="url(#ringC)"/>
<ellipse cx="481.8" cy="185.4" rx="18.7" ry="17.8" fill="url(#shadeC)"/>
<ellipse cx="481.8" cy="185.4" rx="12.9" ry="12.3" fill="url(#red)"/>
<ellipse cx="520.7" cy="185.4" rx="18.7" ry="17.8" fill="url(#ringC)"/>
<ellipse cx="520.7" cy="185.4" rx="18.7" ry="17.8" fill="url(#shadeC)"/>
<ellipse cx="520.7" cy="185.4" rx="12.9" ry="12.3" fill="url(#red)"/>
<ellipse cx="559.4" cy="185.4" rx="18.7" ry="17.8" fill="url(#ringC)"/>
<ellipse cx="559.4" cy="185.4" rx="18.7" ry="17.8" fill="url(#shadeC)"/>
<ellipse cx="559.4" cy="185.4" rx="12.9" ry="12.3" fill="url(#red)"/>
<ellipse cx="442.9" cy="221.4" rx="18.7" ry="17.8" fill="url(#ringC)"/>
<ellipse cx="442.9" cy="221.4" rx="18.7" ry="17.8" fill="url(#shadeC)"/>
<ellipse cx="442.9" cy="221.4" rx="12.9" ry="12.3" fill="url(#red)"/>
<ellipse cx="481.8" cy="221.4" rx="18.7" ry="17.8" fill="url(#ringC)"/>
<ellipse cx="481.8" cy="221.4" rx="18.7" ry="17.8" fill="url(#shadeC)"/>
<ellipse cx="481.8" cy="221.4" rx="12.9" ry="12.3" fill="url(#redD)"/>
<ellipse cx="520.7" cy="221.4" rx="18.7" ry="17.8" fill="url(#ringC)"/>
<ellipse cx="520.7" cy="221.4" rx="18.7" ry="17.8" fill="url(#shadeC)"/>
<ellipse cx="520.7" cy="221.4" rx="12.9" ry="12.3" fill="url(#red)"/>
<ellipse cx="559.4" cy="221.4" rx="18.7" ry="17.8" fill="url(#ringC)"/>
<ellipse cx="559.4" cy="221.4" rx="18.7" ry="17.8" fill="url(#shadeC)"/>
<ellipse cx="559.4" cy="221.4" rx="12.9" ry="12.3" fill="url(#red)"/>
<ellipse cx="442.9" cy="257.5" rx="18.7" ry="17.8" fill="url(#ringC)"/>
<ellipse cx="442.9" cy="257.5" rx="18.7" ry="17.8" fill="url(#shadeC)"/>
<ellipse cx="442.9" cy="257.5" rx="12.9" ry="12.3" fill="url(#red)"/>
<ellipse cx="481.8" cy="257.5" rx="18.7" ry="17.8" fill="url(#ringC)"/>
<ellipse cx="481.8" cy="257.5" rx="18.7" ry="17.8" fill="url(#shadeC)"/>
<ellipse cx="481.8" cy="257.5" rx="12.9" ry="12.3" fill="url(#red)"/>
<ellipse cx="520.7" cy="257.5" rx="18.7" ry="17.8" fill="url(#ringC)"/>
<ellipse cx="520.7" cy="257.5" rx="18.7" ry="17.8" fill="url(#shadeC)"/>
<ellipse cx="520.7" cy="257.5" rx="12.9" ry="12.3" fill="url(#red)"/>
<ellipse cx="559.4" cy="257.5" rx="18.7" ry="17.8" fill="url(#ringC)"/>
<ellipse cx="559.4" cy="257.5" rx="18.7" ry="17.8" fill="url(#shadeC)"/>
<ellipse cx="559.4" cy="257.5" rx="12.9" ry="12.3" fill="url(#orange)"/>
<ellipse cx="442.9" cy="294" rx="18.7" ry="17.8" fill="url(#ringC)"/>
<ellipse cx="442.9" cy="294" rx="18.7" ry="17.8" fill="url(#shadeC)"/>
<ellipse cx="442.9" cy="294" rx="12.9" ry="12.3" fill="url(#red)"/>
<ellipse cx="481.8" cy="294" rx="18.7" ry="17.8" fill="url(#ringC)"/>
<ellipse cx="481.8" cy="294" rx="18.7" ry="17.8" fill="url(#shadeC)"/>
<ellipse cx="481.8" cy="294" rx="12.9" ry="12.3" fill="url(#red)"/>
<ellipse cx="520.7" cy="294" rx="18.7" ry="17.8" fill="url(#ringC)"/>
<ellipse cx="520.7" cy="294" rx="18.7" ry="17.8" fill="url(#shadeC)"/>
<ellipse cx="520.7" cy="294" rx="12.9" ry="12.3" fill="url(#rbrown)"/>
<ellipse cx="559.4" cy="294" rx="18.7" ry="17.8" fill="url(#ringC)"/>
<ellipse cx="559.4" cy="294" rx="18.7" ry="17.8" fill="url(#shadeC)"/>
<ellipse cx="559.4" cy="294" rx="12.9" ry="12.3" fill="url(#gray2)"/>
<ellipse cx="442.9" cy="330.2" rx="18.7" ry="17.8" fill="url(#ringC)"/>
<ellipse cx="442.9" cy="330.2" rx="18.7" ry="17.8" fill="url(#shadeC)"/>
<ellipse cx="442.9" cy="330.2" rx="12.9" ry="12.3" fill="url(#red)"/>
<ellipse cx="481.8" cy="330.2" rx="18.7" ry="17.8" fill="url(#ringC)"/>
<ellipse cx="481.8" cy="330.2" rx="18.7" ry="17.8" fill="url(#shadeC)"/>
<ellipse cx="481.8" cy="330.2" rx="12.9" ry="12.3" fill="url(#red)"/>
<ellipse cx="520.7" cy="330.2" rx="18.7" ry="17.8" fill="url(#ringC)"/>
<ellipse cx="520.7" cy="330.2" rx="18.7" ry="17.8" fill="url(#shadeC)"/>
<ellipse cx="520.7" cy="330.2" rx="12.9" ry="12.3" fill="url(#gray1)"/>
<ellipse cx="559.4" cy="330.2" rx="18.7" ry="17.8" fill="url(#ringC)"/>
<ellipse cx="559.4" cy="330.2" rx="18.7" ry="17.8" fill="url(#shadeC)"/>
<ellipse cx="559.4" cy="330.2" rx="12.9" ry="12.3" fill="url(#gray2)"/>
<ellipse cx="442.9" cy="366" rx="18.7" ry="17.8" fill="url(#ringC)"/>
<ellipse cx="442.9" cy="366" rx="18.7" ry="17.8" fill="url(#shadeC)"/>
<ellipse cx="442.9" cy="366" rx="12.9" ry="12.3" fill="url(#red)"/>
<ellipse cx="481.8" cy="366" rx="18.7" ry="17.8" fill="url(#ringC)"/>
<ellipse cx="481.8" cy="366" rx="18.7" ry="17.8" fill="url(#shadeC)"/>
<ellipse cx="481.8" cy="366" rx="12.9" ry="12.3" fill="url(#red)"/>
<ellipse cx="520.7" cy="366" rx="18.7" ry="17.8" fill="url(#ringC)"/>
<ellipse cx="520.7" cy="366" rx="18.7" ry="17.8" fill="url(#shadeC)"/>
<ellipse cx="520.7" cy="366" rx="12.9" ry="12.3" fill="url(#gray1)"/>
<ellipse cx="559.4" cy="366" rx="18.7" ry="17.8" fill="url(#ringC)"/>
<ellipse cx="559.4" cy="366" rx="18.7" ry="17.8" fill="url(#shadeC)"/>
<ellipse cx="559.4" cy="366" rx="12.9" ry="12.3" fill="url(#gray2)"/>
<circle cx="435.5" cy="144.8" r="0.45" fill="#d8c8c0" opacity="0.8"/>
<circle cx="438.6" cy="145.6" r="0.45" fill="#d8c8c0" opacity="0.8"/>
<circle cx="444.5" cy="138.9" r="0.45" fill="#d8c8c0" opacity="0.8"/>
<circle cx="436.0" cy="141.0" r="0.45" fill="#d8c8c0" opacity="0.8"/>
<circle cx="449.4" cy="144.0" r="0.45" fill="#d8c8c0" opacity="0.8"/>
<circle cx="444.8" cy="140.0" r="0.45" fill="#d8c8c0" opacity="0.8"/>
<circle cx="444.7" cy="148.8" r="0.45" fill="#d8c8c0" opacity="0.8"/>
<circle cx="442.1" cy="147.2" r="0.45" fill="#d8c8c0" opacity="0.8"/>
<circle cx="445.6" cy="138.9" r="0.45" fill="#d8c8c0" opacity="0.8"/>
<circle cx="447.6" cy="145.4" r="0.45" fill="#d8c8c0" opacity="0.8"/>
<circle cx="450.1" cy="143.9" r="0.45" fill="#d8c8c0" opacity="0.8"/>
<circle cx="446.7" cy="148.9" r="0.45" fill="#d8c8c0" opacity="0.8"/>
<circle cx="446.6" cy="149.5" r="0.45" fill="#d8c8c0" opacity="0.8"/>
<circle cx="439.2" cy="148.0" r="0.45" fill="#d8c8c0" opacity="0.8"/>
<circle cx="440.3" cy="149.6" r="0.45" fill="#d8c8c0" opacity="0.8"/>
<circle cx="452.4" cy="143.5" r="0.45" fill="#d8c8c0" opacity="0.8"/>
<circle cx="444.6" cy="141.8" r="0.45" fill="#d8c8c0" opacity="0.8"/>
<circle cx="441.8" cy="142.9" r="0.45" fill="#d8c8c0" opacity="0.8"/>
<circle cx="438.1" cy="145.3" r="0.45" fill="#d8c8c0" opacity="0.8"/>
<circle cx="443.6" cy="149.3" r="0.45" fill="#d8c8c0" opacity="0.8"/>
<circle cx="445.8" cy="149.6" r="0.45" fill="#d8c8c0" opacity="0.8"/>
<circle cx="449.9" cy="150.3" r="0.45" fill="#d8c8c0" opacity="0.8"/>
<circle cx="445.6" cy="140.1" r="0.45" fill="#d8c8c0" opacity="0.8"/>
<circle cx="450.0" cy="150.0" r="0.45" fill="#d8c8c0" opacity="0.8"/>
<circle cx="451.0" cy="145.1" r="0.45" fill="#d8c8c0" opacity="0.8"/>
<circle cx="446.6" cy="140.7" r="0.45" fill="#d8c8c0" opacity="0.8"/>
<circle cx="449.3" cy="145.2" r="0.45" fill="#d8c8c0" opacity="0.8"/>
<circle cx="449.8" cy="150.3" r="0.45" fill="#d8c8c0" opacity="0.8"/>
<circle cx="440.5" cy="155.8" r="0.55" fill="#9a1810" opacity="0.9"/>
<circle cx="445.9" cy="149.5" r="0.55" fill="#9a1810" opacity="0.9"/>
<circle cx="444.0" cy="155.5" r="0.55" fill="#9a1810" opacity="0.9"/>
<circle cx="453.7" cy="148.4" r="0.55" fill="#9a1810" opacity="0.9"/>
<circle cx="449.3" cy="148.4" r="0.55" fill="#9a1810" opacity="0.9"/>
<circle cx="451.1" cy="151.2" r="0.55" fill="#9a1810" opacity="0.9"/>
<circle cx="447.5" cy="157.8" r="0.55" fill="#9a1810" opacity="0.9"/>
<circle cx="444.2" cy="148.7" r="0.55" fill="#9a1810" opacity="0.9"/>
<circle cx="449.1" cy="148.3" r="0.55" fill="#9a1810" opacity="0.9"/>
<circle cx="442.3" cy="152.0" r="0.55" fill="#9a1810" opacity="0.9"/>
<circle cx="449.3" cy="149.5" r="0.55" fill="#9a1810" opacity="0.9"/>
<circle cx="439.7" cy="156.5" r="0.55" fill="#9a1810" opacity="0.9"/>
<circle cx="444.3" cy="157.4" r="0.55" fill="#9a1810" opacity="0.9"/>
<circle cx="454.1" cy="151.7" r="0.55" fill="#9a1810" opacity="0.9"/>
<circle cx="446.8" cy="153.1" r="0.55" fill="#9a1810" opacity="0.9"/>
<circle cx="449.8" cy="153.8" r="0.55" fill="#9a1810" opacity="0.9"/>
<circle cx="448.4" cy="154.1" r="0.55" fill="#9a1810" opacity="0.9"/>
<circle cx="446.3" cy="155.1" r="0.55" fill="#9a1810" opacity="0.9"/>
<circle cx="443.0" cy="150.9" r="0.55" fill="#9a1810" opacity="0.9"/>
<circle cx="448.2" cy="148.1" r="0.55" fill="#9a1810" opacity="0.9"/>
<circle cx="446.0" cy="153.7" r="0.55" fill="#9a1810" opacity="0.9"/>
<circle cx="439.4" cy="154.0" r="0.55" fill="#9a1810" opacity="0.9"/>
<circle cx="449.6" cy="148.6" r="0.55" fill="#9a1810" opacity="0.9"/>
<circle cx="449.6" cy="152.6" r="0.55" fill="#9a1810" opacity="0.9"/>
<ellipse cx="442.9" cy="156.2" rx="11" ry="4.5" fill="#5a3a1a" opacity="0.35"/>
<circle cx="565.7" cy="252.5" r="0.4" fill="#d0a080" opacity="0.7"/>
<circle cx="566.3" cy="259.1" r="0.4" fill="#d0a080" opacity="0.7"/>
<circle cx="565.6" cy="263.0" r="0.4" fill="#d0a080" opacity="0.7"/>
<circle cx="556.8" cy="254.3" r="0.4" fill="#d0a080" opacity="0.7"/>
<circle cx="563.9" cy="251.9" r="0.4" fill="#d0a080" opacity="0.7"/>
<circle cx="559.2" cy="251.8" r="0.4" fill="#d0a080" opacity="0.7"/>
<circle cx="559.3" cy="256.7" r="0.4" fill="#d0a080" opacity="0.7"/>
<circle cx="557.9" cy="252.9" r="0.4" fill="#d0a080" opacity="0.7"/>
<circle cx="563.4" cy="259.1" r="0.4" fill="#d0a080" opacity="0.7"/>
<circle cx="558.1" cy="250.3" r="0.4" fill="#d0a080" opacity="0.7"/>
<circle cx="568.3" cy="250.5" r="0.4" fill="#d0a080" opacity="0.7"/>
<circle cx="555.5" cy="253.9" r="0.4" fill="#d0a080" opacity="0.7"/>
<circle cx="558.3" cy="252.2" r="0.4" fill="#d0a080" opacity="0.7"/>
<circle cx="568.9" cy="254.0" r="0.4" fill="#d0a080" opacity="0.7"/>
<circle cx="558.6" cy="257.6" r="0.4" fill="#d0a080" opacity="0.7"/>
<circle cx="569.9" cy="254.2" r="0.4" fill="#d0a080" opacity="0.7"/>
<circle cx="556.3" cy="248.5" r="0.4" fill="#d0a080" opacity="0.7"/>
<circle cx="562.6" cy="249.7" r="0.4" fill="#d0a080" opacity="0.7"/>
<circle cx="568.3" cy="260.9" r="0.4" fill="#d0a080" opacity="0.7"/>
<circle cx="555.4" cy="251.2" r="0.4" fill="#d0a080" opacity="0.7"/>
<circle cx="568.3" cy="257.5" r="0.4" fill="#d0a080" opacity="0.7"/>
<circle cx="568.3" cy="252.4" r="0.4" fill="#d0a080" opacity="0.7"/>
<circle cx="511.1" cy="288.9" r="0.4" fill="#b06040" opacity="0.6"/>
<circle cx="528.3" cy="288.4" r="0.4" fill="#b06040" opacity="0.6"/>
<circle cx="516.7" cy="292.0" r="0.4" fill="#b06040" opacity="0.6"/>
<circle cx="518.6" cy="291.8" r="0.4" fill="#b06040" opacity="0.6"/>
<circle cx="527.0" cy="302.3" r="0.4" fill="#b06040" opacity="0.6"/>
<circle cx="524.9" cy="294.5" r="0.4" fill="#b06040" opacity="0.6"/>
<circle cx="515.3" cy="290.1" r="0.4" fill="#b06040" opacity="0.6"/>
<circle cx="523.0" cy="288.8" r="0.4" fill="#b06040" opacity="0.6"/>
<circle cx="531.0" cy="295.9" r="0.4" fill="#b06040" opacity="0.6"/>
<circle cx="512.2" cy="289.1" r="0.4" fill="#b06040" opacity="0.6"/>
<circle cx="524.9" cy="294.6" r="0.4" fill="#b06040" opacity="0.6"/>
<circle cx="523.6" cy="290.1" r="0.4" fill="#b06040" opacity="0.6"/>
<text x="586.6" y="154.1" font-size="14.3">6 h</text>
<text x="586.6" y="192" font-size="14.3">15 h</text>
<text x="586.6" y="225.9" font-size="14.3">30 h</text>
<text x="586.6" y="264.1" font-size="14.3">40 h</text>
<text x="586.6" y="301.5" font-size="14.3">62 h</text>
<text x="586.6" y="337" font-size="14.3">92 h</text>
<text x="586.6" y="372.1" font-size="14.3">124 h</text>
<rect x="423.2" y="392.1" width="154.6" height="52" fill="#8a8888"/>
<circle cx="449.2" cy="419.5" r="25" fill="url(#ringC2)"/>
<circle cx="449.2" cy="419.5" r="18.3" fill="url(#grayC1)"/>
<circle cx="502.5" cy="419.5" r="25" fill="url(#ringC2)"/>
<circle cx="502.5" cy="419.5" r="18.3" fill="url(#redC2)"/>
<circle cx="554.8" cy="419.5" r="25" fill="url(#ringC2)"/>
<circle cx="554.8" cy="419.5" r="18.3" fill="url(#grayC3)"/>
<rect x="423.2" y="384" width="156" height="8.1" fill="#fff"/>
<rect x="423.2" y="444.1" width="156" height="8" fill="#fff"/>
<rect x="577.8" y="392" width="8" height="53" fill="#fff"/>
<text transform="translate(454.5,453.5) rotate(-45)" font-size="14.3" text-anchor="end">WT-G (1%)</text>
<text transform="translate(509.7,453.5) rotate(-45)" font-size="14.3" text-anchor="end">WT-M (0.5%)</text>
<text transform="translate(560.0,453.5) rotate(-45)" font-size="14.3" text-anchor="end"><tspan style="fill:#333">Δ</tspan><tspan font-style="italic">gut1</tspan>-HpGCY1-D (1%)</text>
<g stroke="#333" stroke-width="1" fill="none">
<line x1="63.5" y1="505.4" x2="63.5" y2="594.4"/>
<line x1="63.5" y1="598.6" x2="63.5" y2="708.5"/>
<line x1="63" y1="708" x2="335" y2="708"/>
<line x1="61.5" y1="587.4" x2="63.5" y2="587.4"/>
<line x1="59.5" y1="573.7" x2="63.5" y2="573.7"/>
<line x1="61.5" y1="560.1" x2="63.5" y2="560.1"/>
<line x1="59.5" y1="546.4" x2="63.5" y2="546.4"/>
<line x1="61.5" y1="532.8" x2="63.5" y2="532.8"/>
<line x1="59.5" y1="519.1" x2="63.5" y2="519.1"/>
<line x1="61.5" y1="505.5" x2="63.5" y2="505.5"/>
<line x1="59.5" y1="708.0" x2="63.5" y2="708.0"/>
<line x1="61.5" y1="690.8" x2="63.5" y2="690.8"/>
<line x1="59.5" y1="673.6" x2="63.5" y2="673.6"/>
<line x1="61.5" y1="656.4" x2="63.5" y2="656.4"/>
<line x1="59.5" y1="639.2" x2="63.5" y2="639.2"/>
<line x1="61.5" y1="622.0" x2="63.5" y2="622.0"/>
<line x1="59.5" y1="604.8" x2="63.5" y2="604.8"/>
</g>
<text x="56.2" y="523.4" font-size="12" text-anchor="end" style="font-family:'Liberation Serif',serif">500</text>
<text x="56.2" y="550.7" font-size="12" text-anchor="end" style="font-family:'Liberation Serif',serif">400</text>
<text x="56.2" y="578.0" font-size="12" text-anchor="end" style="font-family:'Liberation Serif',serif">300</text>
<text x="56.2" y="609.1" font-size="12" text-anchor="end" style="font-family:'Liberation Serif',serif">150</text>
<text x="56.2" y="643.5" font-size="12" text-anchor="end" style="font-family:'Liberation Serif',serif">100</text>
<text x="56.2" y="677.9" font-size="12" text-anchor="end" style="font-family:'Liberation Serif',serif">50</text>
<text x="56.2" y="712.3" font-size="12" text-anchor="end" style="font-family:'Liberation Serif',serif">0</text>
<rect x="66.00" y="534.9" width="9.35" height="173.1" fill="#000"/>
<rect x="75.35" y="575.1" width="9.35" height="132.9" fill="#8c8e8e"/>
<path d="M70.7,525.7V534.9M68.7,525.7h4" stroke="#999" stroke-width="0.8" fill="none"/>
<path d="M80.0,569.3V580.8M78.0,569.3h4M78.0,580.8h4" stroke="#555" stroke-width="0.8" fill="none"/>
<line x1="75.3" y1="708" x2="75.3" y2="711" stroke="#333"/>
<line x1="86.7" y1="708" x2="86.7" y2="710" stroke="#333"/>
<text transform="translate(77.8,719.2) rotate(-49)" font-size="12.2" text-anchor="end"><tspan font-style="italic">AOX1</tspan></text>
<rect x="88.64" y="677.0" width="9.35" height="31.0" fill="#000"/>
<rect x="97.99" y="701.8" width="9.35" height="6.2" fill="#8c8e8e"/>
<path d="M93.3,668.8V677.0M91.3,668.8h4" stroke="#999" stroke-width="0.8" fill="none"/>
<path d="M102.7,694.9V707.5M100.7,694.9h4M100.7,707.5h4" stroke="#555" stroke-width="0.8" fill="none"/>
<line x1="98.0" y1="708" x2="98.0" y2="711" stroke="#333"/>
<line x1="109.3" y1="708" x2="109.3" y2="710" stroke="#333"/>
<text transform="translate(100.5,719.2) rotate(-49)" font-size="12.2" text-anchor="end"><tspan font-style="italic">CAT</tspan></text>
<rect x="111.28" y="687.4" width="9.35" height="20.6" fill="#000"/>
<rect x="120.63" y="677.7" width="9.35" height="30.3" fill="#8c8e8e"/>
<path d="M116.0,683.9V687.4M114.0,683.9h4" stroke="#999" stroke-width="0.8" fill="none"/>
<path d="M125.3,671.5V683.9M123.3,671.5h4M123.3,683.9h4" stroke="#555" stroke-width="0.8" fill="none"/>
<line x1="120.6" y1="708" x2="120.6" y2="711" stroke="#333"/>
<line x1="131.9" y1="708" x2="131.9" y2="710" stroke="#333"/>
<text transform="translate(123.1,719.2) rotate(-49)" font-size="12.2" text-anchor="end"><tspan font-style="italic">DAS1</tspan></text>
<rect x="133.92" y="679.8" width="9.35" height="28.2" fill="#000"/>
<rect x="143.27" y="686.7" width="9.35" height="21.3" fill="#8c8e8e"/>
<path d="M138.6,676.4V679.8M136.6,676.4h4" stroke="#999" stroke-width="0.8" fill="none"/>
<path d="M147.9,683.9V689.4M145.9,683.9h4M145.9,689.4h4" stroke="#555" stroke-width="0.8" fill="none"/>
<line x1="143.3" y1="708" x2="143.3" y2="711" stroke="#333"/>
<line x1="154.6" y1="708" x2="154.6" y2="710" stroke="#333"/>
<text transform="translate(145.8,719.2) rotate(-49)" font-size="12.2" text-anchor="end"><tspan font-style="italic">DAS2</tspan></text>
<rect x="156.56" y="525.7" width="9.35" height="182.3" fill="#000"/>
<rect x="165.91" y="628.9" width="9.35" height="79.1" fill="#8c8e8e"/>
<path d="M161.2,516.6V525.7M159.2,516.6h4" stroke="#999" stroke-width="0.8" fill="none"/>
<path d="M170.6,622.0V635.8M168.6,622.0h4M168.6,635.8h4" stroke="#555" stroke-width="0.8" fill="none"/>
<line x1="165.9" y1="708" x2="165.9" y2="711" stroke="#333"/>
<line x1="177.2" y1="708" x2="177.2" y2="710" stroke="#333"/>
<text transform="translate(168.4,719.2) rotate(-49)" font-size="12.2" text-anchor="end"><tspan font-style="italic">FDH</tspan></text>
<rect x="179.20" y="664.0" width="9.35" height="44.0" fill="#000"/>
<rect x="188.55" y="699.4" width="9.35" height="8.6" fill="#8c8e8e"/>
<path d="M183.9,657.8V664.0M181.9,657.8h4" stroke="#999" stroke-width="0.8" fill="none"/>
<path d="M193.2,697.3V701.5M191.2,697.3h4M191.2,701.5h4" stroke="#555" stroke-width="0.8" fill="none"/>
<line x1="188.5" y1="708" x2="188.5" y2="711" stroke="#333"/>
<line x1="199.9" y1="708" x2="199.9" y2="710" stroke="#333"/>
<text transform="translate(191.0,719.2) rotate(-49)" font-size="12.2" text-anchor="end"><tspan font-style="italic">FLD</tspan></text>
<rect x="201.84" y="695.6" width="9.35" height="12.4" fill="#000"/>
<rect x="211.19" y="703.9" width="9.35" height="4.1" fill="#8c8e8e"/>
<path d="M206.5,692.2V695.6M204.5,692.2h4" stroke="#999" stroke-width="0.8" fill="none"/>
<path d="M215.9,701.1V706.6M213.9,701.1h4M213.9,706.6h4" stroke="#555" stroke-width="0.8" fill="none"/>
<line x1="211.2" y1="708" x2="211.2" y2="711" stroke="#333"/>
<line x1="222.5" y1="708" x2="222.5" y2="710" stroke="#333"/>
<text transform="translate(213.7,719.2) rotate(-49)" font-size="12.2" text-anchor="end"><tspan font-style="italic">PEX3</tspan></text>
<rect x="224.48" y="664.0" width="9.35" height="44.0" fill="#000"/>
<rect x="233.83" y="697.3" width="9.35" height="10.7" fill="#8c8e8e"/>
<path d="M229.2,653.6V664.0M227.2,653.6h4" stroke="#999" stroke-width="0.8" fill="none"/>
<path d="M238.5,693.6V701.1M236.5,693.6h4M236.5,701.1h4" stroke="#555" stroke-width="0.8" fill="none"/>
<line x1="233.8" y1="708" x2="233.8" y2="711" stroke="#333"/>
<line x1="245.2" y1="708" x2="245.2" y2="710" stroke="#333"/>
<text transform="translate(236.3,719.2) rotate(-49)" font-size="12.2" text-anchor="end"><tspan font-style="italic">PEX5</tspan></text>
<rect x="247.12" y="697.0" width="9.35" height="11.0" fill="#000"/>
<rect x="256.47" y="702.5" width="9.35" height="5.5" fill="#8c8e8e"/>
<path d="M251.8,693.6V697.0M249.8,693.6h4" stroke="#999" stroke-width="0.8" fill="none"/>
<path d="M261.1,701.1V703.9M259.1,701.1h4M259.1,703.9h4" stroke="#555" stroke-width="0.8" fill="none"/>
<line x1="256.5" y1="708" x2="256.5" y2="711" stroke="#333"/>
<line x1="267.8" y1="708" x2="267.8" y2="710" stroke="#333"/>
<text transform="translate(259.0,719.2) rotate(-49)" font-size="12.2" text-anchor="end"><tspan font-style="italic">PEX10</tspan></text>
<rect x="269.76" y="701.8" width="9.35" height="6.2" fill="#000"/>
<rect x="279.11" y="705.9" width="9.35" height="2.1" fill="#8c8e8e"/>
<path d="M274.4,700.4V701.8M272.4,700.4h4" stroke="#999" stroke-width="0.8" fill="none"/>
<path d="M283.8,705.2V706.6M281.8,705.2h4M281.8,706.6h4" stroke="#555" stroke-width="0.8" fill="none"/>
<line x1="279.1" y1="708" x2="279.1" y2="711" stroke="#333"/>
<line x1="290.4" y1="708" x2="290.4" y2="710" stroke="#333"/>
<text transform="translate(281.6,719.2) rotate(-49)" font-size="12.2" text-anchor="end"><tspan font-style="italic">PEX14</tspan></text>
<rect x="292.40" y="660.8" width="9.35" height="47.2" fill="#000"/>
<rect x="301.75" y="647.0" width="9.35" height="61.0" fill="#8c8e8e"/>
<path d="M297.1,648.8V660.8M295.1,648.8h4" stroke="#999" stroke-width="0.8" fill="none"/>
<path d="M306.4,639.2V654.9M304.4,639.2h4M304.4,654.9h4" stroke="#555" stroke-width="0.8" fill="none"/>
<line x1="301.8" y1="708" x2="301.8" y2="711" stroke="#333"/>
<line x1="313.1" y1="708" x2="313.1" y2="710" stroke="#333"/>
<text transform="translate(304.2,719.2) rotate(-49)" font-size="12.2" text-anchor="end"><tspan font-style="italic">PMP20</tspan></text>
<rect x="315.04" y="671.5" width="9.35" height="36.5" fill="#000"/>
<rect x="324.39" y="681.9" width="9.35" height="26.1" fill="#8c8e8e"/>
<path d="M319.7,662.8V671.5M317.7,662.8h4" stroke="#999" stroke-width="0.8" fill="none"/>
<path d="M329.1,675.7V688.0M327.1,675.7h4M327.1,688.0h4" stroke="#555" stroke-width="0.8" fill="none"/>
<line x1="324.4" y1="708" x2="324.4" y2="711" stroke="#333"/>
<line x1="335.7" y1="708" x2="335.7" y2="710" stroke="#333"/>
<text transform="translate(326.9,719.2) rotate(-49)" font-size="12.2" text-anchor="end"><tspan font-style="italic">PMP47</tspan></text>
<rect x="64.5" y="594.6" width="275" height="4.1" fill="#fff"/>
<path d="M59.3,597 L64.2,595 M59.3,600.3 L67.6,596.6" stroke="#333" stroke-width="0.9"/>
<rect x="194" y="508" width="24" height="9" fill="#000"/>
<rect x="194" y="521" width="24" height="9" fill="#8c8e8e"/>
<text x="221.8" y="516.5" font-size="10.5"><tspan style="fill:#333">Δ</tspan><tspan font-style="italic">gut1</tspan>-G (1%)</text>
<text x="221.8" y="529.5" font-size="10.5"><tspan style="fill:#333">Δ</tspan><tspan font-style="italic">gut1</tspan>-Hp<tspan font-style="italic">GCY1</tspan>-G (1%)</text>
<text transform="translate(15.0,734.8) rotate(-90)" font-size="15.9">Relative mRNA level in <tspan style="fill:#333">Δ</tspan><tspan font-style="italic">gut1</tspan> and</text>
<text transform="translate(35.0,723.6) rotate(-90)" font-size="15.9"><tspan style="fill:#333">Δ</tspan><tspan font-style="italic">gut1</tspan>-Hp<tspan font-style="italic">Gcy1</tspan> (folds of WT-G)</text>
<text x="409.7" y="596.2" font-size="14.3">Aox protein</text>
<path d="M507,600.3 C520,601 535,600.5 548,598.5 L548,599.8 C535,601.6 520,601.8 507,601.2Z" fill="#bbb"/>
<path d="M498.7,595.6 C501,594 505,592.5 508,591.4 L510.6,590 L511.3,586.6 L512.4,590 C513.5,591 515,591.4 516,591.6 C520,592.8 524,593.3 528,593 C534,592.3 540,591 543.5,590.3 L545.3,589.6 C547.5,590.3 550,591.8 552.2,593.3 C551,595 549.5,596.3 547,597.5 C543,598.8 535,599.5 528,599.8 C520,600.3 512,600.5 507.5,600.2 C503,599.2 500.5,598 498.7,595.6 Z" fill="#0a0a0a"/>
<path d="M606.2,592.6 C607,590.5 612,590.4 620,590.6 C630,590.8 640,590.2 648,589.9 C650.5,589.9 651.5,591.2 651.5,592.4 C651,594 649,594.3 646,594.4 C636,594.6 625,595 615,595.1 C610,595.2 606.5,594.8 606.2,592.6Z" fill="#0a0a0a"/>
<path d="M658.5,592.5 C659,590.5 663,589.8 668,589.5 C673,589.3 678,590 684,590 C692,589.8 700,589.5 703,590.4 C704.5,591 704.5,593.5 703,594.2 C698,595 690,595 682,595 C676,595.3 670,595.8 665,595.4 C661,595.2 658.7,594.2 658.5,592.5Z" fill="#0a0a0a"/>
<path d="M510.5,606 h2 v0.8 h-2z M510.5,611.2 h3 v0.9 h-3z" fill="#999"/>
<path d="M664,611.3 h12 v0.8 h-12z" fill="#ccc"/>
<text transform="translate(524.8,630.0) rotate(-45)" font-size="14.4" text-anchor="end">WT-M (0.5%)</text>
<text transform="translate(582.2,631.5) rotate(-45)" font-size="14.4" text-anchor="end">WT-G (1%)</text>
<text transform="translate(637.5,628.5) rotate(-45)" font-size="14.3" text-anchor="end"><tspan style="fill:#333">Δ</tspan><tspan font-style="italic">gut1</tspan>-HpGCY1-G (1%)</text>
<text transform="translate(686.3,626.0) rotate(-45)" font-size="14.3" text-anchor="end"><tspan style="fill:#333">Δ</tspan><tspan font-style="italic">gut1</tspan>-G (1%)</text>
</svg></body></html>
